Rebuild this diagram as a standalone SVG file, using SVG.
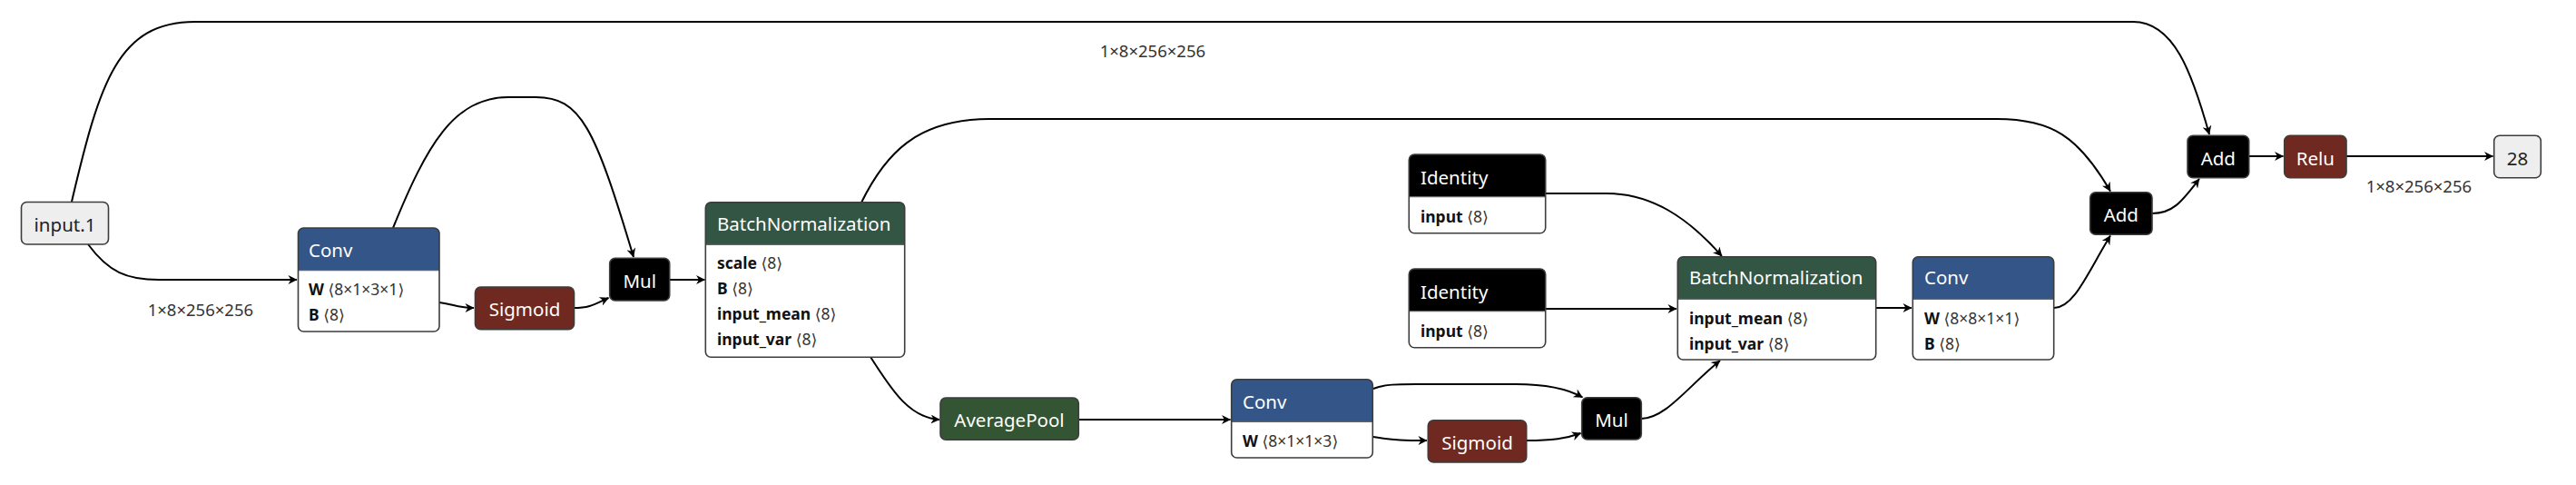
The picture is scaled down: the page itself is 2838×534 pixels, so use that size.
<svg xmlns="http://www.w3.org/2000/svg" width="2838" height="534" viewBox="0 0 2838 534">
<style>
text{font-family:"Noto Sans","DejaVu Sans",sans-serif;}
.frame{fill:none;stroke:#3c3c3c;stroke-width:1.6;}
.body{fill:#ffffff;}
.sep{stroke:#666;stroke-width:1.2;}
.title{fill:#ffffff;font-size:20.5px;}
.ttl-dark{fill:#222;font-size:20.5px;}
.row{font-size:17.5px;fill:#111;}
.row .n{font-weight:bold;}
.row .s{fill:#333;font-weight:normal;}
.lbl{font-size:18.5px;fill:#333;}
.c-conv{fill:#335588;}
.c-act{fill:#702921;}
.c-norm{fill:#335544;}
.c-pool{fill:#335533;}
.c-blk{fill:#000000;}
.c-io{fill:#eeeeee;}
.edge{fill:none;stroke:#000;stroke-width:2;marker-end:url(#arr);}
</style>
<defs>
<marker id="arr" viewBox="0 0 10 10" refX="9.5" refY="5" markerWidth="12" markerHeight="10" markerUnits="userSpaceOnUse" orient="auto">
<path d="M0,0 L10,5 L0,10 L3,5 Z" fill="#000"/>
</marker>
</defs>

<g id="edges">
<path class="edge" d="M79,222 C110,90 130,24 215,24 L2350,24 C2395,24 2415,80 2434,148"/>
<path class="edge" d="M97,269 C120,300 140,308 175,308 L327,308"/>
<path class="edge" d="M433,251 C470,160 500,107 560,107 L590,107 C640,107 655,140 698,283"/>
<path class="edge" d="M484,333 C500,335 505,339 522,339"/>
<path class="edge" d="M632,339 C650,339 655,335 670.5,328"/>
<path class="edge" d="M738,308 L776.5,308"/>
<path class="edge" d="M949,223 C975,170 1010,131 1090,131 L2200,131 C2260,131 2290,150 2325,210.5"/>
<path class="edge" d="M959,393 C980,425 1000,460 1035,462"/>
<path class="edge" d="M1188,462 L1355.5,462"/>
<path class="edge" d="M1513,428 C1525,423 1540,423 1560,423 L1670,423 C1700,423 1725,427 1743.5,437.5"/>
<path class="edge" d="M1513,481 C1535,485 1550,485 1572,485"/>
<path class="edge" d="M1682,485 C1710,485 1725,483 1741.5,477"/>
<path class="edge" d="M1808,461 C1835,461 1860,425 1895,397"/>
<path class="edge" d="M1703,213 L1770,213 C1820,213 1860,240 1897,282"/>
<path class="edge" d="M1703,340 L1847,340"/>
<path class="edge" d="M2067,339 L2106,339"/>
<path class="edge" d="M2263,339 C2285,339 2300,300 2325,259.5"/>
<path class="edge" d="M2371,235 C2395,235 2405,220 2423,197"/>
<path class="edge" d="M2478,172 L2515.5,172"/>
<path class="edge" d="M2585,172 L2746.5,172"/>
</g>

<g id="edge-labels">
<text class="lbl" x="162.7" y="347.7">1×8×256×256</text>
<text class="lbl" x="1211.7" y="63.3">1×8×256×256</text>
<text class="lbl" x="2606.7" y="211.7">1×8×256×256</text>
</g>

<g id="node-input1">
<rect class="c-io" x="23.5" y="222.5" width="96" height="46.5" rx="6"/>
<rect class="frame" x="23.5" y="222.5" width="96" height="46.5" rx="6"/>
<text class="ttl-dark" x="71.5" y="255" text-anchor="middle">input.1</text>
</g>

<g id="node-conv1">
<rect class="body" x="328.5" y="251" width="155.5" height="114" rx="6"/>
<path class="c-conv" d="M328.5,297.7 L328.5,257 Q328.5,251 334.5,251 L478,251 Q484,251 484,257 L484,297.7 Z"/>
<line class="sep" x1="328.5" y1="297.7" x2="484" y2="297.7"/>
<rect class="frame" x="328.5" y="251" width="155.5" height="114" rx="6"/>
<text class="title" x="340" y="283">Conv</text>
<text class="row" x="340" y="325"><tspan class="n">W</tspan><tspan class="s"> ⟨8×1×3×1⟩</tspan></text>
<text class="row" x="340" y="352.7"><tspan class="n">B</tspan><tspan class="s"> ⟨8⟩</tspan></text>
</g>

<g id="node-sigmoid1">
<rect class="c-act" x="523.5" y="316" width="109" height="46.7" rx="6"/>
<rect class="frame" x="523.5" y="316" width="109" height="46.7" rx="6"/>
<text class="title" x="578" y="348.3" text-anchor="middle">Sigmoid</text>
</g>

<g id="node-mul1">
<rect class="c-blk" x="671.7" y="284.3" width="66" height="46.7" rx="6"/>
<rect class="frame" x="671.7" y="284.3" width="66" height="46.7" rx="6"/>
<text class="title" x="704.7" y="316.7" text-anchor="middle">Mul</text>
</g>

<g id="node-bn1">
<rect class="body" x="777.3" y="222.7" width="219.4" height="170.6" rx="6"/>
<path class="c-norm" d="M777.3,269.3 L777.3,228.7 Q777.3,222.7 783.3,222.7 L990.7,222.7 Q996.7,222.7 996.7,228.7 L996.7,269.3 Z"/>
<line class="sep" x1="777.3" y1="269.3" x2="996.7" y2="269.3"/>
<rect class="frame" x="777.3" y="222.7" width="219.4" height="170.6" rx="6"/>
<text class="title" x="790" y="254">BatchNormalization</text>
<text class="row" x="790" y="296"><tspan class="n">scale</tspan><tspan class="s"> ⟨8⟩</tspan></text>
<text class="row" x="790" y="324"><tspan class="n">B</tspan><tspan class="s"> ⟨8⟩</tspan></text>
<text class="row" x="790" y="351.7"><tspan class="n">input_mean</tspan><tspan class="s"> ⟨8⟩</tspan></text>
<text class="row" x="790" y="379.5"><tspan class="n">input_var</tspan><tspan class="s"> ⟨8⟩</tspan></text>
</g>

<g id="node-avgpool">
<rect class="c-pool" x="1036" y="438" width="152.3" height="46.3" rx="6"/>
<rect class="frame" x="1036" y="438" width="152.3" height="46.3" rx="6"/>
<text class="title" x="1112" y="469.5" text-anchor="middle">AveragePool</text>
</g>

<g id="node-conv2">
<rect class="body" x="1356.7" y="417.7" width="155.6" height="86.3" rx="6"/>
<path class="c-conv" d="M1356.7,464.3 L1356.7,423.7 Q1356.7,417.7 1362.7,417.7 L1506.3,417.7 Q1512.3,417.7 1512.3,423.7 L1512.3,464.3 Z"/>
<line class="sep" x1="1356.7" y1="464.3" x2="1512.3" y2="464.3"/>
<rect class="frame" x="1356.7" y="417.7" width="155.6" height="86.3" rx="6"/>
<text class="title" x="1369" y="450">Conv</text>
<text class="row" x="1369" y="491.7"><tspan class="n">W</tspan><tspan class="s"> ⟨8×1×1×3⟩</tspan></text>
</g>

<g id="node-identity1">
<rect class="body" x="1552.3" y="170" width="150.4" height="86.7" rx="6"/>
<path class="c-blk" d="M1552.3,216.7 L1552.3,176 Q1552.3,170 1558.3,170 L1696.7,170 Q1702.7,170 1702.7,176 L1702.7,216.7 Z"/>
<line class="sep" x1="1552.3" y1="216.7" x2="1702.7" y2="216.7"/>
<rect class="frame" x="1552.3" y="170" width="150.4" height="86.7" rx="6"/>
<text class="title" x="1565" y="202.7">Identity</text>
<text class="row" x="1565" y="245"><tspan class="n">input</tspan><tspan class="s"> ⟨8⟩</tspan></text>
</g>

<g id="node-identity2">
<rect class="body" x="1552.3" y="296" width="150.4" height="86.7" rx="6"/>
<path class="c-blk" d="M1552.3,342.7 L1552.3,302 Q1552.3,296 1558.3,296 L1696.7,296 Q1702.7,296 1702.7,302 L1702.7,342.7 Z"/>
<line class="sep" x1="1552.3" y1="342.7" x2="1702.7" y2="342.7"/>
<rect class="frame" x="1552.3" y="296" width="150.4" height="86.7" rx="6"/>
<text class="title" x="1565" y="328.7">Identity</text>
<text class="row" x="1565" y="370.7"><tspan class="n">input</tspan><tspan class="s"> ⟨8⟩</tspan></text>
</g>

<g id="node-sigmoid2">
<rect class="c-act" x="1573.3" y="462.7" width="108.4" height="46.3" rx="6"/>
<rect class="frame" x="1573.3" y="462.7" width="108.4" height="46.3" rx="6"/>
<text class="title" x="1627.5" y="495" text-anchor="middle">Sigmoid</text>
</g>

<g id="node-mul2">
<rect class="c-blk" x="1742.7" y="437.7" width="65.6" height="46.3" rx="6"/>
<rect class="frame" x="1742.7" y="437.7" width="65.6" height="46.3" rx="6"/>
<text class="title" x="1775.5" y="470" text-anchor="middle">Mul</text>
</g>

<g id="node-bn2">
<rect class="body" x="1848.3" y="282.7" width="218.4" height="113.3" rx="6"/>
<path class="c-norm" d="M1848.3,329.3 L1848.3,288.7 Q1848.3,282.7 1854.3,282.7 L2060.7,282.7 Q2066.7,282.7 2066.7,288.7 L2066.7,329.3 Z"/>
<line class="sep" x1="1848.3" y1="329.3" x2="2066.7" y2="329.3"/>
<rect class="frame" x="1848.3" y="282.7" width="218.4" height="113.3" rx="6"/>
<text class="title" x="1861" y="313.3">BatchNormalization</text>
<text class="row" x="1861" y="356.7"><tspan class="n">input_mean</tspan><tspan class="s"> ⟨8⟩</tspan></text>
<text class="row" x="1861" y="385"><tspan class="n">input_var</tspan><tspan class="s"> ⟨8⟩</tspan></text>
</g>

<g id="node-conv3">
<rect class="body" x="2107.3" y="282.7" width="155.4" height="113.3" rx="6"/>
<path class="c-conv" d="M2107.3,329.3 L2107.3,288.7 Q2107.3,282.7 2113.3,282.7 L2256.7,282.7 Q2262.7,282.7 2262.7,288.7 L2262.7,329.3 Z"/>
<line class="sep" x1="2107.3" y1="329.3" x2="2262.7" y2="329.3"/>
<rect class="frame" x="2107.3" y="282.7" width="155.4" height="113.3" rx="6"/>
<text class="title" x="2120" y="313.3">Conv</text>
<text class="row" x="2120" y="356.7"><tspan class="n">W</tspan><tspan class="s"> ⟨8×8×1×1⟩</tspan></text>
<text class="row" x="2120" y="385"><tspan class="n">B</tspan><tspan class="s"> ⟨8⟩</tspan></text>
</g>

<g id="node-add2">
<rect class="c-blk" x="2302.7" y="211.7" width="68.3" height="46.6" rx="6"/>
<rect class="frame" x="2302.7" y="211.7" width="68.3" height="46.6" rx="6"/>
<text class="title" x="2336.8" y="244" text-anchor="middle">Add</text>
</g>

<g id="node-add1">
<rect class="c-blk" x="2410" y="149.3" width="67.7" height="46.4" rx="6"/>
<rect class="frame" x="2410" y="149.3" width="67.7" height="46.4" rx="6"/>
<text class="title" x="2443.8" y="181.7" text-anchor="middle">Add</text>
</g>

<g id="node-relu">
<rect class="c-act" x="2516.7" y="149.3" width="68.3" height="46.4" rx="6"/>
<rect class="frame" x="2516.7" y="149.3" width="68.3" height="46.4" rx="6"/>
<text class="title" x="2550.8" y="181.7" text-anchor="middle">Relu</text>
</g>

<g id="node-output28">
<rect class="c-io" x="2747.7" y="149.3" width="51.6" height="46.4" rx="6"/>
<rect class="frame" x="2747.7" y="149.3" width="51.6" height="46.4" rx="6"/>
<text class="ttl-dark" x="2773.5" y="181.7" text-anchor="middle">28</text>
</g>
</svg>
